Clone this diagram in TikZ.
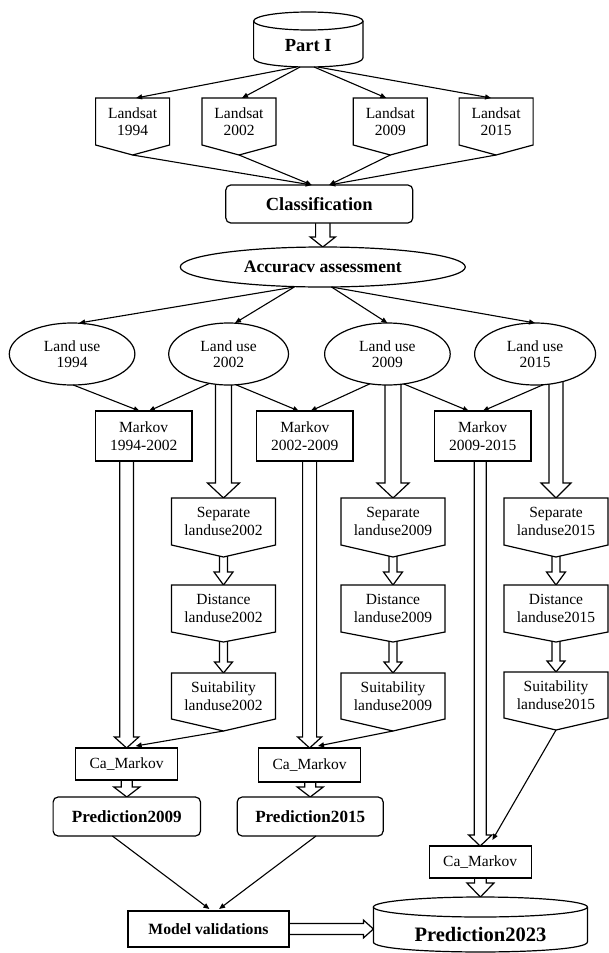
\documentclass[tikz,border=0pt]{standalone}
\usepackage{fontspec}
\setmainfont{Liberation Serif}
\usetikzlibrary{calc,arrows.meta,shapes.geometric}
\pgfdeclarelayer{bg}
\pgfdeclarelayer{mid}
\pgfsetlayers{bg,mid,main}
\tikzset{
  every node/.style={outer sep=0pt, inner sep=0pt, align=center},
  reg/.style={font=\fontsize{15.5}{17.5}\selectfont},
  boxnode/.style={reg, draw, fill=white, rectangle, line width=1.2pt},
  roundbox/.style={draw, fill=white, rectangle, rounded corners=5pt, line width=1.2pt},
  pentnode/.style={reg, rectangle, minimum width=104pt, minimum height=47pt},
  lunode/.style={draw, fill=white, ellipse, line width=1.2pt, minimum height=62pt, font=\fontsize{15.5}{16}\selectfont},
  shp/.style={draw, fill=white, line width=1.2pt, line join=miter},
  hollow/.style={draw, fill=white, line width=1.2pt, line join=miter},
  arr/.style={-{Triangle[length=6pt,width=5pt]}, line width=1.1pt}
}
% hollow arrow downwards: start, end, half shaft, half head, head length
\newcommand\hdn[5]{\draw[hollow] let \p1=(#1), \p2=(#2) in
  (\x2-#3pt,\y1) -- (\x2-#3pt,\y2+#5pt) -- (\x2-#4pt,\y2+#5pt) -- (\x2,\y2)
  -- (\x2+#4pt,\y2+#5pt) -- (\x2+#3pt,\y2+#5pt) -- (\x2+#3pt,\y1);}
% hollow arrow to the right
\newcommand\hrt[5]{\draw[hollow] let \p1=(#1), \p2=(#2) in
  (\x1,\y1+#3pt) -- (\x2-#5pt,\y1+#3pt) -- (\x2-#5pt,\y1+#4pt) -- (\x2,\y1)
  -- (\x2-#5pt,\y1-#4pt) -- (\x2-#5pt,\y1-#3pt) -- (\x1,\y1-#3pt);}
% pentagon outline around a rectangle node, pointing down
\newcommand\mypent[2]{\filldraw[shp] (#1.north west) -- (#1.north east) -- (#1.south east)
  -- ($(#1.south)+(0,#2)$) -- (#1.south west) -- cycle;
  \coordinate (#1-tip) at ($(#1.south)+(0,#2)$);}
\begin{document}
\begin{tikzpicture}[x=1pt,y=-1pt,line width=1.2pt]
\useasboundingbox (0,0) rectangle (608,953);
\begin{pgfonlayer}{bg}\fill[white] (0,0) rectangle (608,953);\end{pgfonlayer}

% ---------- nodes ----------
\node[minimum width=109.3pt, minimum height=42pt, font=\bfseries\fontsize{18.5}{20}\selectfont] (part) at (308.3,46) {Part I};

\node[pentnode, minimum width=74pt] (ls1) at (132.6,121.5) {Landsat\\1994};
\node[pentnode, minimum width=74pt] (ls2) at (239,121.5) {Landsat\\2002};
\node[pentnode, minimum width=74pt] (ls3) at (390.3,121.5) {Landsat\\2009};
\node[pentnode, minimum width=74pt] (ls4) at (496.1,121.5) {Landsat\\2015};

\node[roundbox, minimum width=187pt, minimum height=38pt, font=\bfseries\fontsize{18.5}{20}\selectfont] (cls) at (319.3,204) {Classification};

\node[draw, fill=white, ellipse, line width=1.2pt, minimum width=285pt, minimum height=40pt, font=\bfseries\fontsize{17.6}{19}\selectfont] (acc) at (322.8,267) {Accuracv assessment};

\node[lunode, minimum width=125.6pt] (lu1) at (72.1,354) {Land use\\1994};
\node[lunode, minimum width=119.8pt] (lu2) at (228.6,354) {Land use\\2002};
\node[lunode, minimum width=125.6pt] (lu3) at (387.4,354) {Land use\\2009};
\node[lunode, minimum width=121pt] (lu4) at (535.1,354) {Land use\\2015};

\node[boxnode, minimum width=96.5pt, minimum height=50pt] (mk1) at (143.7,436) {Markov\\1994-2002};
\node[boxnode, minimum width=96.5pt, minimum height=50pt] (mk2) at (304.8,436) {Markov\\2002-2009};
\node[boxnode, minimum width=96.5pt, minimum height=50pt] (mk3) at (482.7,436) {Markov\\2009-2015};

\node[pentnode] (sep1) at (223.5,521.5) {Separate\\landuse2002};
\node[pentnode] (sep2) at (393,521.5) {Separate\\landuse2009};
\node[pentnode] (sep3) at (556,521.5) {Separate\\landuse2015};

\node[pentnode] (dist1) at (223.5,608.5) {Distance\\landuse2002};
\node[pentnode] (dist2) at (393,608.5) {Distance\\landuse2009};
\node[pentnode] (dist3) at (556,608.5) {Distance\\landuse2015};

\node[pentnode, minimum height=46pt] (suit1) at (223.5,696) {Suitability\\landuse2002};
\node[pentnode, minimum height=46pt] (suit2) at (393,696) {Suitability\\landuse2009};
\node[pentnode, minimum height=46pt] (suit3) at (556,695) {Suitability\\landuse2015};

\node[boxnode, minimum width=102pt, minimum height=32pt] (ca1) at (126.6,764) {Ca\_Markov};
\node[boxnode, minimum width=102pt, minimum height=34pt] (ca2) at (309.6,765) {Ca\_Markov};
\node[boxnode, minimum width=102pt, minimum height=32pt] (ca3) at (480.2,862) {Ca\_Markov};

\node[roundbox, minimum width=147.4pt, minimum height=39pt, font=\bfseries\fontsize{17.1}{19}\selectfont] (p09) at (126.8,816.5) {Prediction2009};
\node[roundbox, minimum width=146pt, minimum height=39pt, font=\bfseries\fontsize{17.1}{19}\selectfont] (p15) at (310.2,816.5) {Prediction2015};

\node[draw, fill=white, rectangle, line width=1.2pt, minimum width=161pt, minimum height=36pt, font=\bfseries\fontsize{15.7}{17}\selectfont] (mv) at (208.4,929) {Model validations};

\node[minimum width=214pt, minimum height=36pt, font=\bfseries\fontsize{20.5}{22}\selectfont] (p23) at (480.4,934) {Prediction2023};
\coordinate (p23top) at (480.4,897);

% ---------- shapes (cylinders, pentagons) ----------
\begin{pgfonlayer}{mid}
  \filldraw[shp] (253.6,21) -- (253.6,58) .. controls (253.6,70) and (362.9,70) .. (362.9,58) -- (362.9,21);
  \filldraw[shp] (308.3,21) ellipse [x radius=54.65, y radius=9];
  \filldraw[shp] (373.4,907) -- (373.4,942) .. controls (373.4,955.3) and (587.4,955.3) .. (587.4,942) -- (587.4,907);
  \filldraw[shp] (480.4,907) ellipse [x radius=107, y radius=10];
  \mypent{ls1}{10}\mypent{ls2}{10}\mypent{ls3}{10}\mypent{ls4}{10}
  \mypent{sep1}{12}\mypent{sep2}{12}\mypent{sep3}{12}
  \mypent{dist1}{10}\mypent{dist2}{10}\mypent{dist3}{10}
  \mypent{suit1}{12}\mypent{suit2}{12}\mypent{suit3}{12}
\end{pgfonlayer}

% ---------- hollow arrows ----------
\begin{pgfonlayer}{bg}
  \hdn{cls.center}{acc.north}{7.2}{12.6}{10}
  \hdn{lu2.center}{sep1.north}{8}{16}{15}
  \hdn{lu3.center}{sep2.north}{8}{16}{15}
  \hdn{lu4.center}{sep3.north}{7}{15}{15}
  \hdn{sep1.center}{dist1.north}{4}{9.5}{13}
  \hdn{sep2.center}{dist2.north}{4}{9.5}{13}
  \hdn{sep3.center}{dist3.north}{4}{9.5}{13}
  \hdn{dist1.center}{suit1.north}{4}{9}{11}
  \hdn{dist2.center}{suit2.north}{4}{9}{11}
  \hdn{dist3.center}{suit3.north}{4}{9}{11}
  \hdn{mk1.center}{ca1.north}{6.8}{12.2}{11}
  \hdn{mk2.center}{ca2.north}{7}{12}{11}
  \hdn{mk3.center}{ca3.north}{6}{11.6}{11}
  \hdn{ca1.center}{p09.north}{5.5}{13}{10}
  \hdn{ca2.center}{p15.north}{5.5}{13}{10}
  \hdn{ca3.center}{p23top}{5.8}{13.5}{14}
  \hrt{mv.center}{p23.west}{5.5}{9}{10}
\end{pgfonlayer}

% ---------- thin arrows ----------
\draw[arr] ($(part.south)+(-11.7,0)$) -- ($(ls1.north)+(3.5,0)$);
\draw[arr] ($(part.south)+(-8.2,0)$) -- ($(ls2.north)+(3,0)$);
\draw[arr] ($(part.south)+(5.8,0)$) -- ($(ls3.north)+(-4,0)$);
\draw[arr] ($(part.south)+(9.3,0)$) -- ($(ls4.north)+(-5,0)$);

\draw[arr] (ls1-tip) -- ($(cls.north)+(-7.6,0)$);
\draw[arr] (ls2-tip) -- ($(cls.north)+(-7.6,0)$);
\draw[arr] (ls3-tip) -- ($(cls.north)+(9.9,0)$);
\draw[arr] (ls4-tip) -- ($(cls.north)+(9.9,0)$);

\draw[arr] ($(acc.south)+(-28.5,0)$) -- ($(lu1.north)+(7,0)$);
\draw[arr] ($(acc.south)+(-28.5,0)$) -- ($(lu2.north)+(6.4,0)$);
\draw[arr] ($(acc.south)+(8.7,0)$) -- (lu3.north);
\draw[arr] ($(acc.south)+(8.7,0)$) -- (lu4.north);

\draw[arr] ($(lu1.center)+(1.2,31)$) -- ($(mk1.north)+(-4.1,0)$);
\draw[arr] ($(lu2.center)+(-19.2,29.4)$) -- ($(mk1.north)+(5.2,0)$);
\draw[arr] ($(lu2.center)+(7.5,30.8)$) -- ($(mk2.north)+(-5.9,0)$);
\draw[arr] ($(lu3.center)+(-17.5,29.8)$) -- ($(mk2.north)+(5.8,0)$);
\draw[arr] ($(lu3.center)+(16.2,29.9)$) -- ($(mk3.north)+(-13.9,0)$);
\draw[arr] ($(lu4.center)+(8.1,30.7)$) -- (mk3.north);

\draw[arr] (suit1-tip) -- ($(ca1.north)+(9.1,-2)$);
\draw[arr] (suit2-tip) -- ($(ca2.north)+(8.4,-2)$);
\draw[arr] (suit3-tip) -- ($(ca3.north)+(12.2,-6)$);

\draw[arr] ($(p09.south)+(-14.4,0)$) -- ($(mv.north)+(1,-2)$);
\draw[arr] ($(p15.south)+(5.8,0)$) -- ($(mv.north)+(10.7,-2)$);
\end{tikzpicture}
\end{document}
